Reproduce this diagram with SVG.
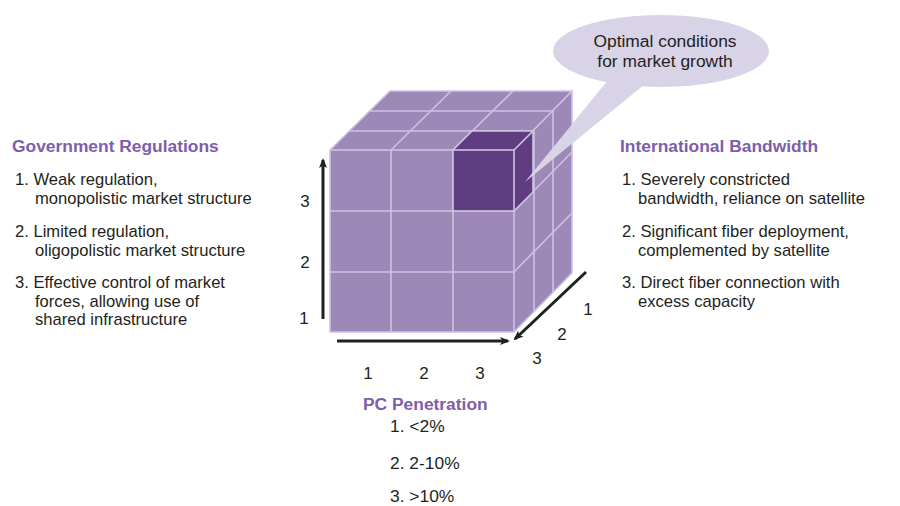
<svg xmlns="http://www.w3.org/2000/svg" width="900" height="506" viewBox="0 0 900 506">
<defs>
<marker id="ah" markerWidth="10" markerHeight="10" refX="8" refY="5" orient="auto" markerUnits="userSpaceOnUse">
<path d="M0,1 L10,5 L0,9 L2.5,5 Z" fill="#231f20"/>
</marker>
<style>
text{font-family:"Liberation Sans",Arial,sans-serif;fill:#231f20;}
.h{font-weight:bold;fill:#7d5ea8;font-size:17.4px;}
.t{font-size:16.6px;}
.p{font-size:17.4px;}
.n{font-size:17px;}
.face{fill:#9c89b7;}
.dark{fill:#5f3d80;}
.ln{stroke:#cfc2e2;stroke-width:1.6;fill:none;}
.ax{stroke:#231f20;stroke-width:3;fill:none;marker-end:url(#ah);}
.co{fill:#d9d3e7;}
</style>
</defs>
<rect width="900" height="506" fill="#ffffff"/>

<g id="cube">
<polygon class="face" points="330,150 514,150 572,91 390,91"/>
<polygon class="face" points="514,150 572,91 572,273 514,332"/>
<rect class="face" x="330" y="150" width="184" height="182"/>
<g class="ln">
<rect x="330" y="150" width="184" height="182"/>
<line x1="391" y1="150" x2="391" y2="332"/>
<line x1="453" y1="150" x2="453" y2="332"/>
<line x1="330" y1="211" x2="514" y2="211"/>
<line x1="330" y1="272" x2="514" y2="272"/>
<polyline points="330,150 390,91 572,91 514,150"/>
<line x1="350" y1="131" x2="534" y2="131"/>
<line x1="370" y1="111" x2="553" y2="111"/>
<line x1="391" y1="150" x2="451" y2="91"/>
<line x1="453" y1="150" x2="513" y2="91"/>
<polyline points="572,91 572,273 514,332"/>
<line x1="534" y1="131" x2="534" y2="312"/>
<line x1="553" y1="111" x2="553" y2="292"/>
<line x1="514" y1="211" x2="572" y2="152"/>
<line x1="514" y1="272" x2="572" y2="213"/>
</g>
</g>

<g id="optimal-cell">
<polygon class="dark" points="453,150 514,150 533,131 472,131"/>
<polygon class="dark" points="514,150 533,131 533,192 514,211"/>
<rect class="dark" x="453" y="150" width="61" height="61"/>
<g class="ln">
<rect x="453" y="150" width="61" height="61"/>
<polyline points="453,150 472,131 533,131 514,150"/>
<polyline points="533,131 533,192 514,211"/>
</g>
</g>

<g id="connectors">
<line class="ax" x1="323" y1="319" x2="323" y2="160"/>
<line class="ax" x1="337" y1="341" x2="508" y2="341"/>
<line class="ax" x1="586" y1="272" x2="515" y2="339"/>
</g>

<g id="axis-labels">
<text class="n" x="305" y="207" text-anchor="middle">3</text>
<text class="n" x="305" y="268" text-anchor="middle">2</text>
<text class="n" x="304" y="324" text-anchor="middle">1</text>
<text class="n" x="368" y="379" text-anchor="middle">1</text>
<text class="n" x="424" y="379" text-anchor="middle">2</text>
<text class="n" x="480" y="379" text-anchor="middle">3</text>
<text class="n" x="588" y="315" text-anchor="middle">1</text>
<text class="n" x="562" y="340" text-anchor="middle">2</text>
<text class="n" x="537" y="364" text-anchor="middle">3</text>
</g>

<g id="callout">
<ellipse class="co" cx="661" cy="51" rx="108" ry="36"/>
<polygon class="co" points="608,80 650,80 525,182"/>
<text class="t" text-anchor="middle" style="font-size:17.4px"><tspan x="665" y="47">Optimal conditions</tspan><tspan x="665" y="66.5">for market growth</tspan></text>
</g>

<g id="government-regulations">
<text class="h" x="12" y="152">Government Regulations</text>
<text class="t"><tspan x="15" y="185">1. Weak regulation,</tspan><tspan x="35" y="203.5">monopolistic market structure</tspan></text>
<text class="t"><tspan x="15" y="237">2. Limited regulation,</tspan><tspan x="35" y="255.5">oligopolistic market structure</tspan></text>
<text class="t"><tspan x="15" y="288">3. Effective control of market</tspan><tspan x="35" y="306.5">forces, allowing use of</tspan><tspan x="35" y="325">shared infrastructure</tspan></text>
</g>

<g id="international-bandwidth">
<text class="h" x="620" y="152">International Bandwidth</text>
<text class="t"><tspan x="622" y="185">1. Severely constricted</tspan><tspan x="638" y="203.5">bandwidth, reliance on satellite</tspan></text>
<text class="t"><tspan x="622" y="237">2. Significant fiber deployment,</tspan><tspan x="638" y="255.5">complemented by satellite</tspan></text>
<text class="t"><tspan x="622" y="288">3. Direct fiber connection with</tspan><tspan x="638" y="306.5">excess capacity</tspan></text>
</g>

<g id="pc-penetration">
<text class="h" x="363" y="410">PC Penetration</text>
<text class="p" x="390" y="432">1. &lt;2%</text>
<text class="p" x="390" y="469">2. 2-10%</text>
<text class="p" x="390" y="502">3. &gt;10%</text>
</g>
</svg>
